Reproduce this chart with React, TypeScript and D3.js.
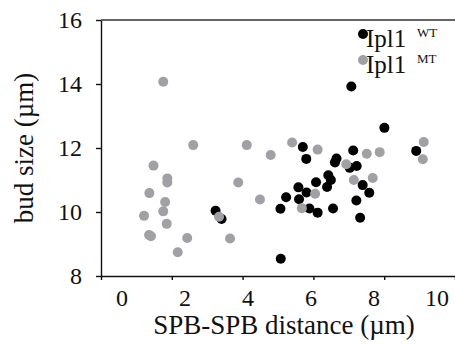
import React from 'react'
import * as d3 from 'd3'

// Ipl1 WT (black) points: [SPB-SPB distance, bud size]
const wtX = [2.97, 3.16, 5.04, 5.03, 5.21, 5.6, 5.62, 5.86, 5.95, 6.16, 6.21, 6.51, 6.55, 6.63, 6.7, 5.74, 5.85, 6.76, 6.81, 7.23, 7.45, 7.34, 7.28, 8.33, 9.34, 7.64, 7.85, 7.44, 7.56]
const wtY = [10.04, 9.78, 8.54, 10.1, 10.46, 10.77, 10.4, 10.61, 10.11, 10.93, 9.98, 10.78, 11.15, 11.0, 10.11, 12.03, 11.66, 11.55, 11.67, 11.38, 11.44, 11.92, 13.92, 12.63, 11.91, 10.84, 10.6, 10.36, 9.82]

// Ipl1 MT (grey) points
const mtX = [1.31, 2.26, 1.0, 1.44, 1.44, 0.87, 1.37, 1.31, 0.7, 1.42, 0.86, 0.92, 2.07, 1.77, 3.08, 3.43, 3.96, 4.72, 3.69, 4.38, 5.71, 6.13, 5.4, 6.21, 7.12, 7.77, 8.18, 7.36, 7.96, 9.58, 9.55]
const mtY = [14.07, 12.09, 11.45, 11.05, 10.92, 10.59, 10.31, 10.02, 9.88, 9.63, 9.28, 9.24, 9.19, 8.74, 9.85, 9.17, 12.09, 11.78, 10.92, 10.39, 10.12, 10.57, 12.17, 11.95, 11.49, 11.82, 11.87, 11.0, 11.06, 12.19, 11.65]

const xTicks = [0, 2, 4, 6, 8, 10]
const yTicks = [8, 10, 12, 14, 16]
const legendNames = ['WT', 'MT']

const WIDTH = 455
const HEIGHT = 346
const FONT = '"Liberation Serif", "Times New Roman", serif'

export default function App() {
  const svgRef = React.useRef<SVGSVGElement | null>(null)

  React.useEffect(() => {
    const svg = d3.select(svgRef.current)
    svg.selectAll('*').remove()

    const margin = { top: 20, right: 0, bottom: 70, left: 101 }

    // label / data scale
    const xScale = d3.scaleLinear().domain([0, 10]).range([122, 437])
    // tick marks on the axis sit on their own spacing
    const xTickScale = d3.scaleLinear().domain([0, 10]).range([margin.left, WIDTH])
    const yScale = d3
      .scaleLinear()
      .domain([8, 16])
      .range([HEIGHT - margin.bottom, margin.top])

    // Y axis
    const yAxis = svg
      .append('g')
      .attr('transform', `translate(${margin.left}, 0)`)
      .call(d3.axisLeft(yScale).tickValues(yTicks).tickSize(5).tickSizeOuter(0).tickFormat(() => ''))
    yAxis.selectAll('path, line').attr('stroke', '#111').attr('stroke-width', 1.4)

    // Y tick labels
    svg
      .selectAll('.ylab')
      .data(yTicks)
      .enter()
      .append('text')
      .attr('x', 82)
      .attr('y', (d) => yScale(d))
      .attr('dy', '0.34em')
      .attr('text-anchor', 'end')
      .attr('font-family', FONT)
      .attr('font-size', 24)
      .attr('fill', '#111')
      .text((d) => d)

    // X axis
    const xAxis = svg
      .append('g')
      .attr('transform', `translate(0, ${yScale(8)})`)
      .call(d3.axisBottom(xTickScale).tickValues(xTicks).tickSize(4).tickSizeOuter(0).tickFormat(() => ''))
    xAxis.selectAll('path, line').attr('stroke', '#111').attr('stroke-width', 1.4)

    // top frame line
    svg
      .append('line')
      .attr('x1', margin.left)
      .attr('x2', WIDTH)
      .attr('y1', yScale(16))
      .attr('y2', yScale(16))
      .attr('stroke', '#333')
      .attr('stroke-width', 1.4)

    // X tick labels
    svg
      .selectAll('.xlab')
      .data(xTicks)
      .enter()
      .append('text')
      .attr('x', (d) => xScale(d))
      .attr('y', 306)
      .attr('text-anchor', 'middle')
      .attr('font-family', FONT)
      .attr('font-size', 24)
      .attr('fill', '#111')
      .text((d) => d)

    // Axis titles
    svg
      .append('text')
      .attr('x', 284)
      .attr('y', 334)
      .attr('text-anchor', 'middle')
      .attr('font-family', FONT)
      .attr('font-size', 27)
      .attr('fill', '#111')
      .text('SPB-SPB distance (µm)')

    svg
      .append('text')
      .attr('text-anchor', 'middle')
      .attr('transform', `translate(33, 148) rotate(-90)`)
      .attr('font-family', FONT)
      .attr('font-size', 27)
      .attr('fill', '#111')
      .text('bud size (µm)')

    // points
    const wt = wtX.map((x, i) => ({ x, y: wtY[i] }))
    const mt = mtX.map((x, i) => ({ x, y: mtY[i] }))

    svg
      .selectAll('.wt')
      .data(wt)
      .enter()
      .append('circle')
      .attr('cx', (d) => xScale(d.x))
      .attr('cy', (d) => yScale(d.y))
      .attr('r', 5)
      .attr('fill', '#000')

    svg
      .selectAll('.mt')
      .data(mt)
      .enter()
      .append('circle')
      .attr('cx', (d) => xScale(d.x))
      .attr('cy', (d) => yScale(d.y))
      .attr('r', 5)
      .attr('fill', '#a1a1a5')

    // Legend
    const legendColors = ['#000', '#a1a1a5']
    legendNames.forEach((name, i) => {
      const y0 = 34 + i * 26
      svg
        .append('circle')
        .attr('cx', 363)
        .attr('cy', y0)
        .attr('r', 5)
        .attr('fill', legendColors[i])
      svg
        .append('text')
        .attr('x', 366)
        .attr('y', y0 + 12.5)
        .attr('font-family', FONT)
        .attr('font-size', 25)
        .attr('fill', '#111')
        .text('Ipl1')
      svg
        .append('text')
        .attr('x', 417)
        .attr('y', y0 + 2.5)
        .attr('font-family', FONT)
        .attr('font-size', 13)
        .attr('fill', '#111')
        .text(name)
    })
  }, [])

  return (
    <svg
      ref={svgRef}
      width={WIDTH}
      height={HEIGHT}
      style={{ position: 'absolute', left: 0, top: 0, background: '#fff' }}
    ></svg>
  )
}
